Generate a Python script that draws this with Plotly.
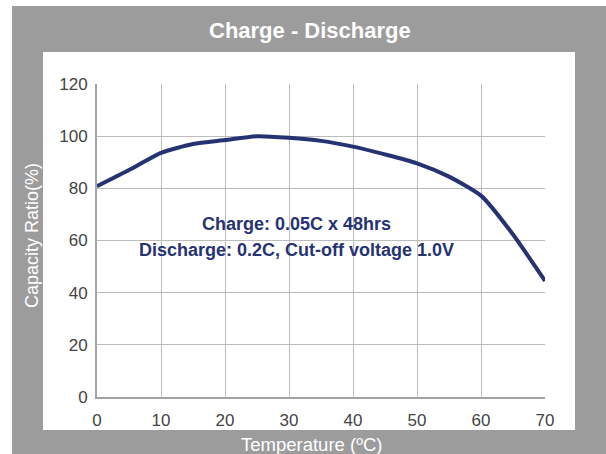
import plotly.graph_objects as go

# Data
temperature = [0, 5, 10, 15, 20, 25, 30, 35, 40, 45, 50, 55, 60, 65, 70]
capacity_ratio = [80.8, 87.0, 93.6, 97.0, 98.5, 100.0, 99.4, 98.2, 96.0, 93.0, 89.6, 84.5, 77.2, 62.3, 44.5]
x_ticks = [0, 10, 20, 30, 40, 50, 60, 70]
y_ticks = [0, 20, 40, 60, 80, 100, 120]

title_text = "Charge - Discharge"
x_title = "Temperature (ºC)"
y_title = "Capacity Ratio(%)"
note_lines = ["Charge: 0.05C x 48hrs", "Discharge: 0.2C, Cut-off voltage 1.0V"]

W, H = 606, 454
L, R, T, B = 97, 61, 84, 57
PW, PH = W - L - R, H - T - B


def px(xp):
    return (xp - L) / PW


def py(yp):
    return (H - B - yp) / PH


NAVY = "#263373"
GRAY = "#9c9c9c"
FONT = "Liberation Sans, Arial, sans-serif"

fig = go.Figure()
fig.add_trace(go.Scatter(
    x=temperature, y=capacity_ratio, mode="lines",
    line=dict(color=NAVY, width=4, shape="spline", smoothing=0.6),
    showlegend=False, hoverinfo="skip",
))

shapes = [
    dict(type="rect", xref="paper", yref="paper", layer="below",
         x0=px(12), x1=px(620), y0=py(470), y1=py(6),
         fillcolor=GRAY, line=dict(width=0)),
    dict(type="rect", xref="paper", yref="paper", layer="below",
         x0=px(43), x1=px(575), y0=py(430), y1=py(52),
         fillcolor="white", line=dict(width=0)),
]

annotations = [
    dict(text="<b>" + title_text + "</b>", xref="paper", yref="paper",
         x=px(310), y=py(31), xanchor="center", yanchor="middle", showarrow=False,
         font=dict(family=FONT, size=22, color="white")),
    dict(text=x_title, xref="paper", yref="paper",
         x=px(311), y=py(444), xanchor="center", yanchor="middle", showarrow=False,
         font=dict(family=FONT, size=18.5, color="white")),
    dict(text=y_title, xref="paper", yref="paper", textangle=-90,
         x=px(32), y=py(236), xanchor="center", yanchor="middle", showarrow=False,
         font=dict(family=FONT, size=18, color="white")),
    dict(text="<b>" + note_lines[0] + "</b>", x=31.1, y=66.3, xref="x", yref="y",
         showarrow=False, xanchor="center", yanchor="middle",
         font=dict(family=FONT, size=18, color=NAVY)),
    dict(text="<b>" + note_lines[1] + "</b>", x=31.1, y=56.4, xref="x", yref="y",
         showarrow=False, xanchor="center", yanchor="middle",
         font=dict(family=FONT, size=18, color=NAVY)),
]

fig.update_layout(
    width=W, height=H,
    margin=dict(l=L, r=R, t=T, b=B, pad=0),
    paper_bgcolor="white",
    plot_bgcolor="rgba(0,0,0,0)",
    shapes=shapes,
    annotations=annotations,
    font=dict(family=FONT, color="#444444"),
)
fig.update_xaxes(
    range=[0, 70], tickvals=x_ticks, ticktext=[str(v) for v in x_ticks],
    showgrid=True, gridcolor="#bcbcbc", gridwidth=1,
    showline=True, linecolor="#a3a3a3", linewidth=2,
    zeroline=False, ticks="", tickfont=dict(size=17, color="#444444"),
    ticklabelstandoff=7,
)
fig.update_yaxes(
    range=[0, 120], tickvals=y_ticks, ticktext=[str(v) for v in y_ticks],
    showgrid=True, gridcolor="#bcbcbc", gridwidth=1,
    showline=True, linecolor="#a3a3a3", linewidth=2,
    zeroline=False, ticks="", tickfont=dict(size=17, color="#444444"),
    ticklabelstandoff=4,
)

fig.write_html(
    "out.html",
    config={"displayModeBar": False, "staticPlot": True},
    post_script="document.body.style.margin='0';document.body.style.overflow='hidden';",
)
